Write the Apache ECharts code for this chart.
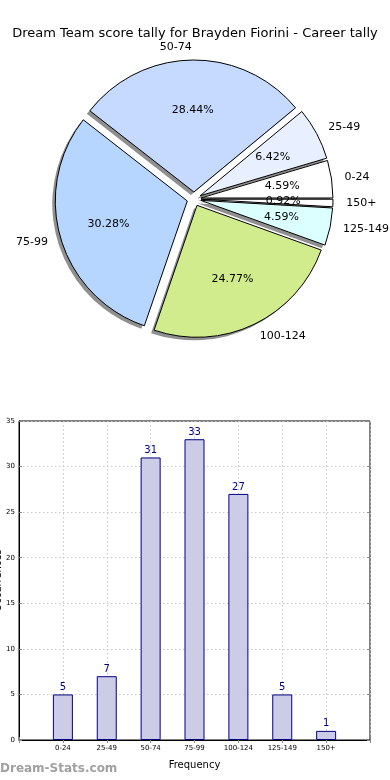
<!DOCTYPE html>
<html><head><meta charset="utf-8">
<script src="https://cdn.jsdelivr.net/npm/echarts@6/dist/echarts.min.js"></script>
<style>html,body{margin:0;padding:0;background:#fff}#c{width:390px;height:780px}</style>
</head><body><div id="c"></div>
<script>
const titleText = 'Dream Team score tally for Brayden Fiorini - Career tally';
const categories = ['0-24', '25-49', '50-74', '75-99', '100-124', '125-149', '150+'];
const counts = [5, 7, 31, 33, 27, 5, 1];
const sliceColors = ['#ffffff', '#e8f0ff', '#c6daff', '#b6d6ff', '#d0ec8c', '#dcffff', '#ffffff'];
const yTicks = [0, 35, 5];

const FONT = 'DejaVu Sans';
const total = counts.reduce((a, b) => a + b, 0);
const R = 132, CX = 194, CY = 199, OFF = 7;

const pieData = categories.map((c, i) => ({
  name: c, value: counts[i], selected: true,
  itemStyle: { color: sliceColors[i] }
}));
const plainData = categories.map((c, i) => ({ name: c, value: counts[i], selected: true }));

const pieCommon = {
  type: 'pie', silent: true, startAngle: 0, clockwise: false, avoidLabelOverlap: false,
  selectedMode: 'multiple', selectedOffset: OFF, emphasis: { disabled: true }
};

const gridLine = { show: true, lineStyle: { color: '#c8c8c8', type: [1.5, 2.5], width: 1 } };
const innerTick = { show: true, inside: true, length: 3, lineStyle: { color: '#888' } };

const chart = echarts.init(document.getElementById('c'), null, { renderer: 'canvas' });
chart.setOption({
  animation: false,
  backgroundColor: '#fff',
  title: {
    text: titleText, left: 'center', top: 22,
    textStyle: { fontFamily: FONT, fontSize: 13, fontWeight: 'normal', color: '#000' }
  },
  graphic: [{
    type: 'text', left: 0, top: 763,
    style: { text: 'Dream-Stats.com', fill: '#a0a0a0', font: 'bold 12px "DejaVu Sans"' }
  }],
  grid: { left: 19, right: 20, top: 421, bottom: 40, containLabel: false, outerBoundsMode: 'none',
    show: true, borderColor: '#000', borderWidth: 1 },
  xAxis: [{
    type: 'value', min: -1, max: 7, interval: 1,
    name: 'Frequency', nameLocation: 'middle', nameGap: 20,
    nameTextStyle: { fontFamily: FONT, fontSize: 10, color: '#000' },
    axisLine: { show: true, onZero: false, lineStyle: { color: '#000' } },
    axisTick: innerTick,
    axisLabel: { fontFamily: FONT, fontSize: 7, color: '#000', margin: 5,
      formatter: v => (categories[v] !== undefined ? categories[v] : '') },
    splitLine: gridLine
  }, {
    type: 'value', position: 'top', min: -1, max: 7, interval: 1,
    axisLine: { show: false }, axisLabel: { show: false }, splitLine: { show: false },
    axisTick: innerTick
  }],
  yAxis: [{
    type: 'value', min: yTicks[0], max: yTicks[1], interval: yTicks[2],
    name: 'Occurrences', nameLocation: 'middle', nameGap: 16, nameRotate: 90,
    nameMoveOverlap: false,
    nameTextStyle: { fontFamily: FONT, fontSize: 10, color: '#000' },
    axisLine: { show: true, onZero: false, lineStyle: { color: '#000' } },
    axisTick: innerTick,
    axisLabel: { fontFamily: FONT, fontSize: 7, color: '#000', margin: 4 },
    splitLine: gridLine
  }, {
    type: 'value', position: 'right', min: yTicks[0], max: yTicks[1], interval: yTicks[2],
    axisLine: { show: false, onZero: false }, axisLabel: { show: false }, splitLine: { show: false },
    axisTick: innerTick
  }],
  series: [
    Object.assign({}, pieCommon, {
      center: [CX - 3, CY + 3], radius: [0, R], z: 1,
      itemStyle: { color: '#8f8f8f', borderWidth: 0 },
      label: { show: false }, labelLine: { show: false },
      data: plainData
    }),
    Object.assign({}, pieCommon, {
      center: [CX, CY], radius: [0, R], z: 2,
      itemStyle: { borderColor: '#000', borderWidth: 1 },
      label: { show: true, position: 'outside', distanceToLabelLine: 0,
        fontFamily: FONT, fontSize: 11, color: '#000', formatter: '{b}' },
      labelLine: { show: false, length: R * 0.1, length2: 0 },
      data: pieData
    }),
    Object.assign({}, pieCommon, {
      center: [CX, CY], radius: [0, R * 1.2], z: 3,
      itemStyle: { color: 'rgba(0,0,0,0)', borderWidth: 0 },
      label: { show: true, position: 'inside', fontFamily: FONT, fontSize: 11, color: '#000',
        formatter: p => (p.value / total * 100).toFixed(2) + '%' },
      labelLine: { show: false },
      data: plainData
    }),
    {
      type: 'bar', xAxisIndex: 0, yAxisIndex: 0, barWidth: 20,
      data: counts.map((v, i) => [i, v]),
      itemStyle: { color: '#ccccE6', borderColor: '#000080', borderWidth: 1 },
      label: { show: true, position: 'top', distance: 2, fontFamily: FONT, fontSize: 10, color: '#000080',
        formatter: p => p.value[1] }
    }
  ]
});
</script></body></html>
